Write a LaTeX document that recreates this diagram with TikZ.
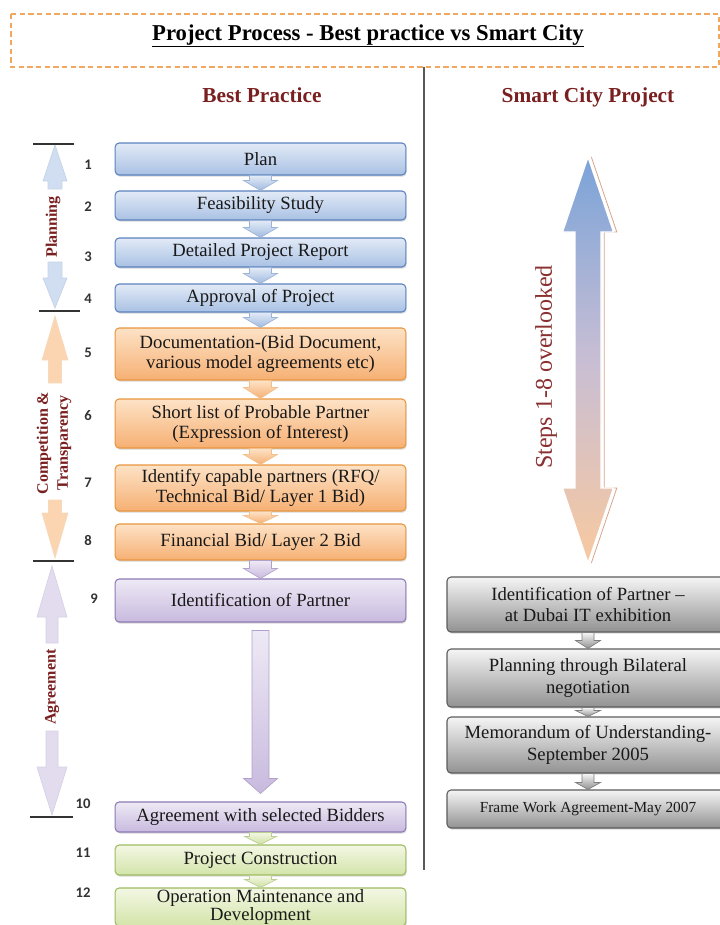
\documentclass[tikz,border=0pt]{standalone}
\usepackage{fontspec}
\setmainfont{Liberation Serif}
\newfontfamily\numfont{Carlito}
\usepackage{tikz}
\usetikzlibrary{calc,shadows}

\definecolor{bluetop}{HTML}{E2EAF6}
\definecolor{bluebot}{HTML}{A9C1E4}
\definecolor{blueline}{HTML}{5A82BE}
\definecolor{orangetop}{HTML}{FDE2C6}
\definecolor{orangebot}{HTML}{F6B073}
\definecolor{orangeline}{HTML}{E8963F}
\definecolor{purpletop}{HTML}{EEE9F5}
\definecolor{purplebot}{HTML}{C8BADE}
\definecolor{purpleline}{HTML}{8E7AB5}
\definecolor{greentop}{HTML}{F3F7E4}
\definecolor{greenbot}{HTML}{D3E4A9}
\definecolor{greenline}{HTML}{9DBB61}
\definecolor{graytop}{HTML}{F5F5F5}
\definecolor{graybot}{HTML}{929292}
\definecolor{grayline}{HTML}{5C5C5C}
\definecolor{darkred}{HTML}{7A1F1F}
\definecolor{titleline}{HTML}{F0A860}
\definecolor{shadowline}{HTML}{D8A48A}
\definecolor{skytop}{HTML}{7AA3D8}
\definecolor{skymid}{HTML}{C8BED4}
\definecolor{skybot}{HTML}{F8C9A0}
\definecolor{skiptext}{HTML}{8A3030}

\newcommand{\boxfont}{\fontsize{14}{15}\selectfont}

% block arrow from one box down to the next: style, from, to, shaft half, head half, head length, gap
\newcommand{\flowarrow}[7]{%
  \path[#1] ($(#2.south)+(-#4,#7)$) -- ($(#2.south)+(#4,#7)$) -- ($(#3.north)+(#4,-#6-#7)$)
    -- ($(#3.north)+(#5,-#6-#7)$) -- ($(#3.north)+(0,-#7)$) -- ($(#3.north)+(-#5,-#6-#7)$)
    -- ($(#3.north)+(-#4,-#6-#7)$) -- cycle;}

% one half of a side arrow: style, x, tip, head base, shaft end, shaft half, head half
\newcommand{\halfarr}[7]{%
  \path[#1] (#2,#3) -- (#2+#7,#4) -- (#2+#6,#4) -- (#2+#6,#5) -- (#2-#6,#5) -- (#2-#6,#4) -- (#2-#7,#4) -- cycle;}

\begin{document}
\begin{tikzpicture}[x=0.75pt,y=-0.75pt,
  box/.style={draw, rounded corners=3pt, line width=0.8pt, minimum width=218pt, inner sep=0pt,
    align=center, font=\boxfont, text=black!90,
    drop shadow={shadow xshift=0.6pt, shadow yshift=-1.2pt, opacity=0.3}},
  bluebox/.style={box, draw=blueline, top color=bluetop, bottom color=bluebot},
  orangebox/.style={box, draw=orangeline, top color=orangetop, bottom color=orangebot},
  purplebox/.style={box, draw=purpleline, top color=purpletop, bottom color=purplebot},
  greenbox/.style={box, draw=greenline, top color=greentop, bottom color=greenbot},
  graybox/.style={box, minimum width=211.5pt, draw=grayline, top color=graytop, bottom color=graybot,
    font=\fontsize{14}{16}\selectfont},
  bluearrow/.style={draw=blueline!60, line width=0.5pt, top color=bluetop, bottom color=bluebot!90!blueline},
  orangearrow/.style={draw=orangeline!60, line width=0.5pt, top color=orangetop, bottom color=orangebot},
  purplearrow/.style={draw=purpleline!70, line width=0.5pt, top color=purpletop, bottom color=purplebot},
  greenarrow/.style={draw=greenline!70, line width=0.5pt, top color=greentop, bottom color=greenbot!90!greenline},
  grayarrow/.style={draw=grayline!80, line width=0.5pt, top color=graytop, bottom color=graybot},
  planarrow/.style={draw=blueline!35, line width=0.5pt, fill=bluetop!70!bluebot},
  comparrow/.style={draw=orangeline!35, line width=0.5pt, fill=orangetop!75!orangebot},
  agrarrow/.style={draw=purpleline!35, line width=0.5pt, fill=purpletop!70!purplebot},
  num/.style={font=\numfont\bfseries\fontsize{11}{12}\selectfont, text=black!80},
  side/.style={font=\bfseries\fontsize{12}{15}\selectfont, text=darkred, rotate=90, align=center},
  head/.style={font=\bfseries\fontsize{16}{18}\selectfont, text=darkred, anchor=base}]

\useasboundingbox (0,0) rectangle (720,925);
\clip (0,0) rectangle (720,925);

% title
\draw[draw=titleline, line width=0.8pt, dash pattern=on 4pt off 2.5pt] (11,14) rectangle (719,67);
\node[font=\bfseries\fontsize{17}{20}\selectfont, anchor=base] (title) at (368,40)
  {\underline{Project Process - Best practice vs Smart City}};
\draw[black!65, line width=0.8pt] (424,67) -- (424,870);

\node[head] (best) at (262,102) {Best Practice};
\node[head] (smart) at (588,102) {Smart City Project};

% best practice steps
\node[bluebox, minimum height=24pt] (plan) at (260.5,159) {Plan};
\node[bluebox, minimum height=21.75pt] (feas) at (260.5,205.5) {Feasibility Study};
\node[bluebox, minimum height=21.75pt] (dpr) at (260.5,252.5) {Detailed Project Report};
\node[bluebox, minimum height=21pt] (appr) at (260.5,298) {Approval of Project};
\node[orangebox, minimum height=39pt] (doc) at (260.5,354) {Documentation-(Bid Document,\\various model agreements etc)};
\node[orangebox, minimum height=36.75pt] (short) at (260.5,423.5) {Short list of Probable Partner\\(Expression of Interest)};
\node[orangebox, minimum height=34.5pt] (capable) at (260.5,488) {Identify capable partners (RFQ/\\Technical Bid/ Layer 1 Bid)};
\node[orangebox, minimum height=27pt] (fin) at (260.5,542) {Financial Bid/ Layer 2 Bid};
\node[purplebox, minimum height=32.25pt] (partner) at (260.5,600.5) {Identification of Partner};
\node[purplebox, minimum height=22.5pt] (agree) at (260.5,817) {Agreement with selected Bidders};
\node[greenbox, minimum height=22.5pt] (constr) at (260.5,860) {Project Construction};
\node[greenbox, minimum height=28.5pt, font=\fontsize{14}{13.5}\selectfont] (oper) at (260.5,907) {Operation Maintenance and\\Development};

\flowarrow{bluearrow}{plan}{feas}{11}{17}{10}{0}
\flowarrow{bluearrow}{feas}{dpr}{11}{17}{10}{0}
\flowarrow{bluearrow}{dpr}{appr}{11}{17}{10}{0}
\flowarrow{bluearrow}{appr}{doc}{11}{17}{10}{0}
\flowarrow{orangearrow}{doc}{short}{11}{17}{11}{0}
\flowarrow{orangearrow}{short}{capable}{11}{17}{10}{0}
\flowarrow{orangearrow}{capable}{fin}{11}{17}{8}{0}
\flowarrow{purplearrow}{fin}{partner}{11}{17}{10}{0}
\flowarrow{purplearrow}{partner}{agree}{8.5}{17}{15}{8}
\flowarrow{greenarrow}{agree}{constr}{11}{16}{8}{0}
\flowarrow{greenarrow}{constr}{oper}{11}{16}{8}{0}

% step numbers
\foreach \n/\x/\y in {1/88/165, 2/88/207, 3/88/257, 4/88/299, 5/88/353, 6/88/416,
  7/88/483, 8/88/540, 9/94/599, 10/83/804, 11/83/853, 12/83/893}
  \node[num] (n\n) at (\x,\y) {\n};

% phases on the left
\halfarr{planarrow}{55}{145}{181}{189}{7}{12}
\halfarr{planarrow}{55}{308}{278}{262}{7}{12}
\halfarr{comparrow}{55}{316}{360}{383}{6.5}{13}
\halfarr{comparrow}{55}{558}{513}{500}{6.5}{13}
\halfarr{agrarrow}{52}{566}{617}{643}{6}{15}
\halfarr{agrarrow}{52}{815}{767}{731}{6}{15}

\draw[black!80, line width=0.9pt] (33,144) -- (74,144);
\draw[black!80, line width=0.9pt] (39,311) -- (80,311);
\draw[black!80, line width=0.9pt] (33,561) -- (74,561);
\draw[black!80, line width=0.9pt] (30,817) -- (73,817);

\node[side] (lplan) at (53,227) {Planning};
\node[side] (lcomp) at (54,443) {Competition \&\\Transparency};
\node[side] (lagree) at (52,687) {Agreement};

% smart city side
\draw[shadowline, line width=0.6pt, xshift=2.5pt] (588,157) -- (613.5,232) -- (601,232) -- (601,488) -- (613.5,488)
  -- (588,563);
\path[draw=white, line width=1pt, top color=skytop, bottom color=skybot, middle color=skymid]
  (588,157) -- (613.5,232) -- (601,232) -- (601,488) -- (613.5,488)
  -- (588,563) -- (562.5,488) -- (575,488) -- (575,232) -- (562.5,232) -- cycle;
\node[rotate=90, font=\fontsize{18}{20}\selectfont, text=skiptext] (skip) at (546,367) {Steps 1-8 overlooked};

\node[graybox, minimum height=41.25pt] (g1) at (588,604.5) {Identification of Partner –\\at Dubai IT exhibition};
\node[graybox, minimum height=43.5pt] (g2) at (588,678) {Planning through Bilateral\\negotiation};
\node[graybox, minimum height=42pt] (g3) at (588,745) {Memorandum of Understanding-\\September 2005};
\node[graybox, minimum height=28.5pt, font=\fontsize{11.5}{13}\selectfont] (g4) at (588,809) {Frame Work Agreement-May 2007};

\flowarrow{grayarrow}{g1}{g2}{6}{12.5}{8}{0}
\flowarrow{grayarrow}{g2}{g3}{6}{12.5}{6}{0}
\flowarrow{grayarrow}{g3}{g4}{6}{12.5}{7}{0}

\end{tikzpicture}
\end{document}
